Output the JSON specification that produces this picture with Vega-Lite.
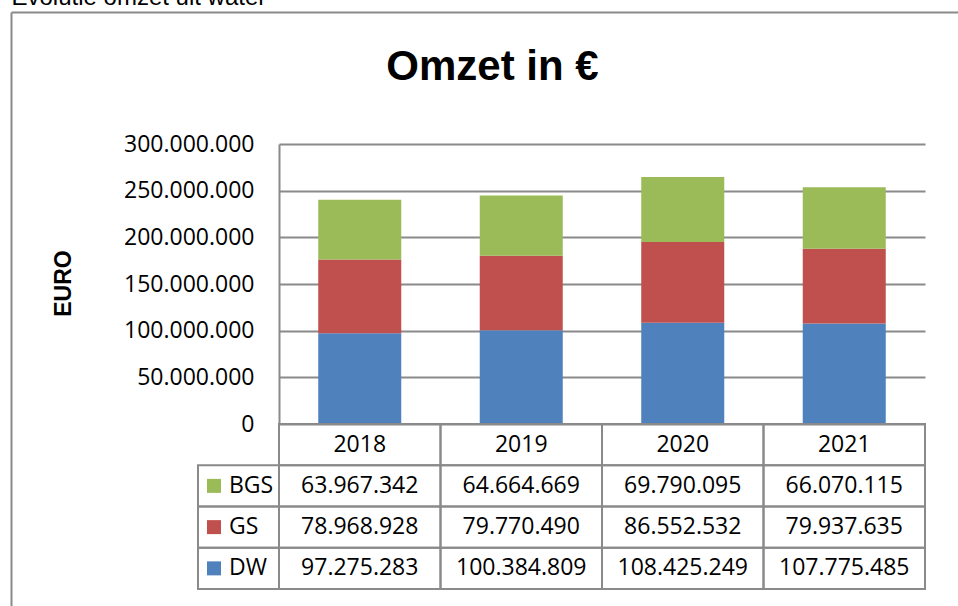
{
  "$schema": "https://vega.github.io/schema/vega-lite/v6.json",
  "width": 947,
  "height": 594,
  "autosize": {"type": "none"},
  "padding": {"left": 11, "top": 12, "right": 0, "bottom": 0},
  "background": "white",
  "config": {
    "view": {"stroke": null},
    "locale": {"number": {"decimal": ",", "thousands": ".", "grouping": [3], "currency": ["€ ", ""]}},
    "font": "Open Sans"
  },
  "data": {
    "values": [
      {"year": "2018", "series": "DW", "idx": 1, "value": 97275283},
      {"year": "2019", "series": "DW", "idx": 1, "value": 100384809},
      {"year": "2020", "series": "DW", "idx": 1, "value": 108425249},
      {"year": "2021", "series": "DW", "idx": 1, "value": 107775485},
      {"year": "2018", "series": "GS", "idx": 2, "value": 78968928},
      {"year": "2019", "series": "GS", "idx": 2, "value": 79770490},
      {"year": "2020", "series": "GS", "idx": 2, "value": 86552532},
      {"year": "2021", "series": "GS", "idx": 2, "value": 79937635},
      {"year": "2018", "series": "BGS", "idx": 3, "value": 63967342},
      {"year": "2019", "series": "BGS", "idx": 3, "value": 64664669},
      {"year": "2020", "series": "BGS", "idx": 3, "value": 69790095},
      {"year": "2021", "series": "BGS", "idx": 3, "value": 66070115}
    ]
  },
  "resolve": {"scale": {"x": "independent", "y": "independent"}, "axis": {"x": "independent", "y": "independent"}},
  "layer": [
    {
      "mark": {"type": "point", "opacity": 0, "size": 0},
      "encoding": {
        "x": {"datum": 0, "type": "quantitative", "scale": {"domain": [0, 1]},
          "axis": {"orient": "top", "domain": true, "domainColor": "#8a8a8a", "domainWidth": 2, "labels": false, "ticks": false, "grid": false,
            "title": "Evolutie omzet uit water", "titleFont": "Liberation Sans", "titleFontSize": 24, "titleFontWeight": "normal", "titleColor": "#000000",
            "titleX": 0, "titleY": -8, "titleAlign": "left", "titleAnchor": "start", "titleBaseline": "alphabetic"}},
        "y": {"datum": 0, "type": "quantitative", "scale": {"domain": [0, 1]},
          "axis": {"orient": "left", "domain": true, "domainColor": "#8a8a8a", "domainWidth": 2, "labels": false, "ticks": false, "grid": false, "title": null}}
      }
    },
    {
      "mark": {"type": "bar"},
      "encoding": {
        "x": {"field": "year", "type": "nominal", "scale": {"domain": ["2018", "2019", "2020", "2021"], "range": [268, 914], "paddingInner": 0.486, "paddingOuter": 0.243}, "axis": null},
        "y": {"field": "value", "type": "quantitative", "stack": "zero",
          "scale": {"domain": [0, 300000000], "range": [412, 132], "nice": false, "zero": true},
          "axis": {"orient": "left", "offset": -268, "values": [0, 50000000, 100000000, 150000000, 200000000, 250000000, 300000000],
            "format": ",d", "labelFont": "Open Sans", "labelFontSize": 23, "labelColor": "#000000", "labelPadding": 25,
            "ticks": false, "domain": true, "domainColor": "#8a8a8a", "domainWidth": 2,
            "grid": true, "gridColor": "#8a8a8a", "gridWidth": 2, "gridOpacity": 1,
            "title": "EURO", "titleFont": "Liberation Sans", "titleFontSize": 23, "titleFontWeight": "bold", "titleColor": "#000000",
            "titleX": -216, "titleY": 271, "titleAlign": "center", "titleBaseline": "middle", "titleAngle": 270}},
        "color": {"field": "series", "type": "nominal", "scale": {"domain": ["DW", "GS", "BGS"], "range": ["#4F81BD", "#C0504D", "#9BBB59"]}, "legend": null},
        "order": {"field": "idx", "type": "quantitative"}
      }
    },
    {
      "layer": [
        {
          "mark": {"type": "rect", "fill": "transparent", "stroke": "#8a8a8a", "strokeWidth": 2},
          "encoding": {
            "x": {"field": "year", "type": "nominal", "scale": {"domain": ["2018", "2019", "2020", "2021"], "range": [268, 914], "paddingInner": 0, "paddingOuter": 0},
              "axis": {"orient": "top", "domain": false, "labels": false, "ticks": false, "grid": false, "title": "Omzet in €", "titleFont": "Liberation Sans", "titleFontSize": 42, "titleFontWeight": "bold", "titleColor": "#000000", "titleX": 481, "titleY": 67, "titleAlign": "center", "titleBaseline": "alphabetic"}},
            "y": {"field": "series", "type": "nominal", "scale": {"domain": ["hdr", "BGS", "GS", "DW"], "range": [412, 577], "paddingInner": 0, "paddingOuter": 0}, "axis": null}
          }
        },
        {
          "mark": {"type": "text", "font": "Open Sans", "fontSize": 23, "color": "#000000", "baseline": "middle", "align": "center"},
          "encoding": {
            "x": {"field": "year", "type": "nominal", "scale": {"domain": ["2018", "2019", "2020", "2021"], "range": [268, 914], "paddingInner": 0, "paddingOuter": 0},
              "axis": {"orient": "top", "domain": false, "labels": false, "ticks": false, "grid": false, "title": "Omzet in €", "titleFont": "Liberation Sans", "titleFontSize": 42, "titleFontWeight": "bold", "titleColor": "#000000", "titleX": 481, "titleY": 67, "titleAlign": "center", "titleBaseline": "alphabetic"}},
            "y": {"field": "series", "type": "nominal", "scale": {"domain": ["hdr", "BGS", "GS", "DW"], "range": [412, 577], "paddingInner": 0, "paddingOuter": 0}, "axis": null},
            "text": {"field": "value", "type": "quantitative", "format": ",d"}
          }
        },
        {
          "transform": [{"filter": "datum.series === 'DW'"}],
          "mark": {"type": "rect", "fill": "transparent", "stroke": "#8a8a8a", "strokeWidth": 2},
          "encoding": {
            "x": {"field": "year", "type": "nominal", "scale": {"domain": ["2018", "2019", "2020", "2021"], "range": [268, 914], "paddingInner": 0, "paddingOuter": 0},
              "axis": {"orient": "top", "domain": false, "labels": false, "ticks": false, "grid": false, "title": "Omzet in €", "titleFont": "Liberation Sans", "titleFontSize": 42, "titleFontWeight": "bold", "titleColor": "#000000", "titleX": 481, "titleY": 67, "titleAlign": "center", "titleBaseline": "alphabetic"}},
            "y": {"datum": "hdr", "type": "nominal", "scale": {"domain": ["hdr", "BGS", "GS", "DW"], "range": [412, 577], "paddingInner": 0, "paddingOuter": 0}, "axis": null}
          }
        },
        {
          "transform": [{"filter": "datum.series === 'DW'"}],
          "mark": {"type": "text", "font": "Open Sans", "fontSize": 23, "color": "#000000", "baseline": "middle", "align": "center"},
          "encoding": {
            "x": {"field": "year", "type": "nominal", "scale": {"domain": ["2018", "2019", "2020", "2021"], "range": [268, 914], "paddingInner": 0, "paddingOuter": 0},
              "axis": {"orient": "top", "domain": false, "labels": false, "ticks": false, "grid": false, "title": "Omzet in €", "titleFont": "Liberation Sans", "titleFontSize": 42, "titleFontWeight": "bold", "titleColor": "#000000", "titleX": 481, "titleY": 67, "titleAlign": "center", "titleBaseline": "alphabetic"}},
            "y": {"datum": "hdr", "type": "nominal", "scale": {"domain": ["hdr", "BGS", "GS", "DW"], "range": [412, 577], "paddingInner": 0, "paddingOuter": 0}, "axis": null},
            "text": {"field": "year", "type": "nominal"}
          }
        }
      ]
    },
    {
      "transform": [{"filter": "datum.year === '2018'"}],
      "layer": [
        {
          "mark": {"type": "rect", "fill": "transparent", "stroke": "#8a8a8a", "strokeWidth": 2},
          "encoding": {
            "x": {"datum": "lbl", "type": "nominal", "scale": {"domain": ["lbl"], "range": [187, 268], "paddingInner": 0, "paddingOuter": 0}, "axis": null},
            "y": {"field": "series", "type": "nominal", "scale": {"domain": ["hdr", "BGS", "GS", "DW"], "range": [412, 577], "paddingInner": 0, "paddingOuter": 0}, "axis": null}
          }
        },
        {
          "mark": {"type": "point", "shape": "square", "filled": true, "size": 196, "opacity": 1, "xOffset": -24.5},
          "encoding": {
            "x": {"datum": "lbl", "type": "nominal", "scale": {"domain": ["lbl"], "range": [187, 268], "paddingInner": 0, "paddingOuter": 0}, "axis": null},
            "y": {"field": "series", "type": "nominal", "scale": {"domain": ["hdr", "BGS", "GS", "DW"], "range": [412, 577], "paddingInner": 0, "paddingOuter": 0}, "axis": null},
            "color": {"field": "series", "type": "nominal", "scale": {"domain": ["DW", "GS", "BGS"], "range": ["#4F81BD", "#C0504D", "#9BBB59"]}, "legend": null}
          }
        },
        {
          "mark": {"type": "text", "font": "Open Sans", "fontSize": 23, "color": "#000000", "baseline": "middle", "align": "left", "dx": -9.5},
          "encoding": {
            "x": {"datum": "lbl", "type": "nominal", "scale": {"domain": ["lbl"], "range": [187, 268], "paddingInner": 0, "paddingOuter": 0}, "axis": null},
            "y": {"field": "series", "type": "nominal", "scale": {"domain": ["hdr", "BGS", "GS", "DW"], "range": [412, 577], "paddingInner": 0, "paddingOuter": 0}, "axis": null},
            "text": {"field": "series", "type": "nominal"}
          }
        }
      ]
    }
  ]
}
